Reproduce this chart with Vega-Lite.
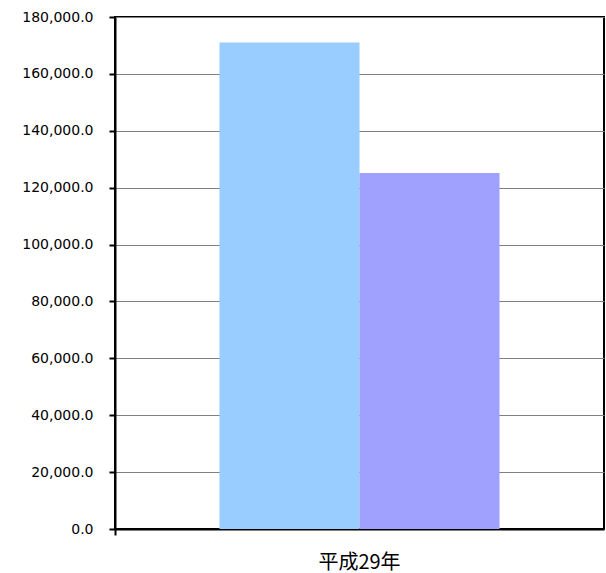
{
  "$schema": "https://vega.github.io/schema/vega-lite/v6.json",
  "width": 489,
  "height": 512,
  "autosize": {"type": "none"},
  "padding": {"left": 115, "top": 17, "right": 2, "bottom": 44},
  "background": "white",
  "config": {
    "view": {"stroke": "black", "strokeWidth": 2},
    "font": "DejaVu Sans"
  },
  "data": {
    "values": [
      {"year": "平成29年", "series": "A", "value": 171000},
      {"year": "平成29年", "series": "B", "value": 125200}
    ]
  },
  "mark": {"type": "bar"},
  "encoding": {
    "x": {
      "field": "year",
      "type": "nominal",
      "scale": {"paddingInner": 0, "paddingOuter": 0},
      "axis": {
        "title": null,
        "labelAngle": 0,
        "labelFont": "Noto Sans CJK JP",
        "labelFontSize": 20,
        "labelColor": "black",
        "labelPadding": 17,
        "domainColor": "black",
        "domainWidth": 2,
        "tickColor": "black",
        "tickWidth": 2,
        "tickSize": 6,
        "bandPosition": 0
      }
    },
    "xOffset": {
      "field": "series",
      "type": "nominal",
      "scale": {"paddingInner": 0, "paddingOuter": 0.746}
    },
    "y": {
      "field": "value",
      "type": "quantitative",
      "scale": {"domain": [0, 180000], "nice": false},
      "axis": {
        "title": null,
        "values": [0, 20000, 40000, 60000, 80000, 100000, 120000, 140000, 160000, 180000],
        "format": ",.1f",
        "labelFontSize": 14,
        "labelColor": "black",
        "labelPadding": 16,
        "labelFont": "DejaVu Sans",
        "domainColor": "black",
        "domainWidth": 2,
        "tickColor": "black",
        "tickWidth": 2,
        "tickSize": 6,
        "grid": true,
        "gridColor": "#808080",
        "gridWidth": 1
      }
    },
    "color": {
      "field": "series",
      "type": "nominal",
      "scale": {"domain": ["A", "B"], "range": ["#99ccff", "#a0a0ff"]},
      "legend": null
    }
  }
}
